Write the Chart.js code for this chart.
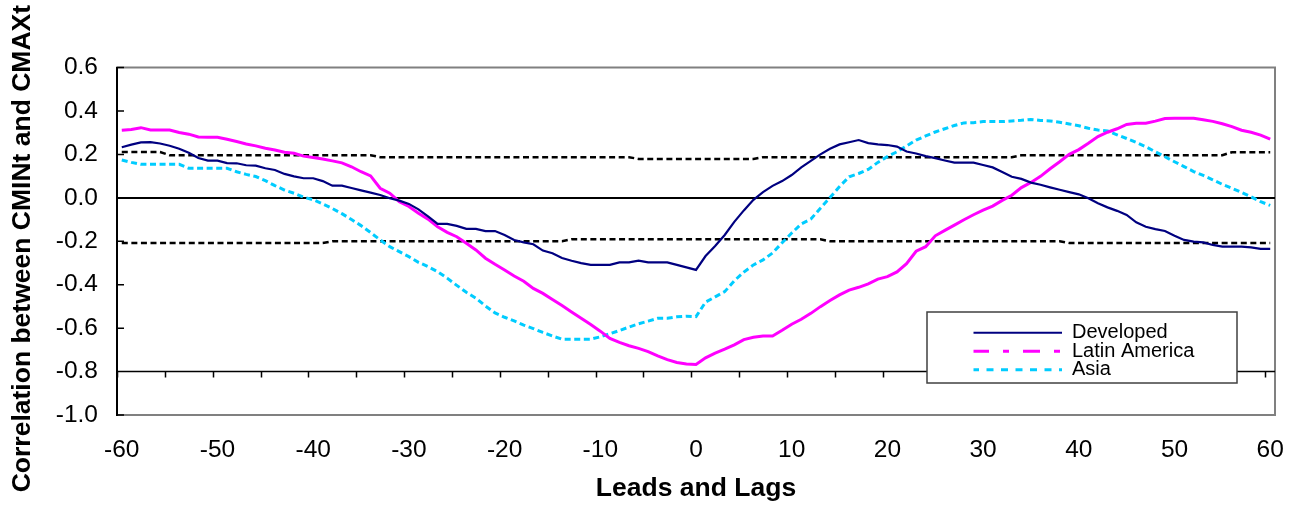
<!DOCTYPE html>
<html>
<head>
<meta charset="utf-8">
<script src="https://cdn.jsdelivr.net/npm/chart.js@4.4.0/dist/chart.umd.min.js"></script>
<style>
  html, body { margin: 0; padding: 0; background: #fff; }
</style>
</head>
<body>
<canvas id="chart" width="1295" height="506"></canvas>
<script>
// lags -60 .. 60
const lags = Array.from({ length: 121 }, (_, i) => i - 60);
const xTickLabels = [-60, -50, -40, -30, -20, -10, 0, 10, 20, 30, 40, 50, 60];
const yTickLabels = [-1.0, -0.8, -0.6, -0.4, -0.2, 0.0, 0.2, 0.4, 0.6];
const seriesNames = ['Developed', 'Latin America', 'Asia'];

const developed = [
  0.233, 0.245, 0.255, 0.256, 0.250, 0.240, 0.226, 0.207, 0.183, 0.171,
  0.171, 0.160, 0.159, 0.150, 0.148, 0.136, 0.128, 0.110, 0.099, 0.090,
  0.090, 0.077, 0.056, 0.056, 0.045, 0.034, 0.024, 0.013, -0.002, -0.013,
  -0.028, -0.053, -0.086, -0.120, -0.120, -0.129, -0.143, -0.143, -0.153, -0.153,
  -0.171, -0.194, -0.205, -0.214, -0.243, -0.255, -0.277, -0.290, -0.301, -0.309,
  -0.309, -0.309, -0.297, -0.297, -0.289, -0.297, -0.297, -0.297, -0.309, -0.320,
  -0.332,
  -0.268, -0.222, -0.171, -0.111, -0.058, -0.009, 0.026, 0.055, 0.077, 0.105,
  0.140, 0.170, 0.200, 0.226, 0.246, 0.256, 0.266, 0.252, 0.246, 0.243,
  0.236, 0.213, 0.204, 0.192, 0.183, 0.172, 0.162, 0.162, 0.162, 0.151,
  0.140, 0.119, 0.097, 0.087, 0.070, 0.060, 0.048, 0.037, 0.026, 0.016,
  -0.002, -0.025, -0.044, -0.060, -0.079, -0.113, -0.133, -0.144, -0.153, -0.175,
  -0.194, -0.202, -0.205, -0.217, -0.225, -0.225, -0.225, -0.228, -0.235, -0.235
];

const latinAmerica = [
  0.311, 0.315, 0.323, 0.312, 0.312, 0.312, 0.301, 0.293, 0.280, 0.279,
  0.279, 0.270, 0.259, 0.248, 0.239, 0.228, 0.220, 0.210, 0.205, 0.192,
  0.186, 0.179, 0.170, 0.161, 0.143, 0.120, 0.101, 0.044, 0.021, -0.018,
  -0.040, -0.071, -0.098, -0.133, -0.159, -0.179, -0.209, -0.240, -0.278, -0.306,
  -0.332, -0.360, -0.384, -0.417, -0.440, -0.468, -0.496, -0.526, -0.555, -0.583,
  -0.614, -0.647, -0.666, -0.681, -0.693, -0.708, -0.728, -0.745, -0.758, -0.765,
  -0.767,
  -0.737, -0.715, -0.697, -0.677, -0.653, -0.642, -0.636, -0.636, -0.610, -0.582,
  -0.559, -0.532, -0.501, -0.473, -0.447, -0.425, -0.412, -0.396, -0.374, -0.363,
  -0.341, -0.303, -0.246, -0.225, -0.175, -0.150, -0.126, -0.101, -0.078, -0.057,
  -0.038, -0.012, 0.012, 0.047, 0.071, 0.099, 0.134, 0.166, 0.200, 0.222,
  0.251, 0.282, 0.302, 0.318, 0.338, 0.343, 0.343, 0.353, 0.365, 0.366,
  0.366, 0.366, 0.359, 0.352, 0.341, 0.328, 0.311, 0.302, 0.289, 0.270
];

const asia = [
  0.174, 0.163, 0.154, 0.154, 0.154, 0.154, 0.154, 0.136, 0.136, 0.136,
  0.136, 0.136, 0.120, 0.108, 0.098, 0.079, 0.056, 0.036, 0.021, 0.003,
  -0.009, -0.028, -0.049, -0.073, -0.100, -0.128, -0.160, -0.194, -0.225, -0.248,
  -0.271, -0.297, -0.317, -0.340, -0.370, -0.403, -0.435, -0.462, -0.498, -0.530,
  -0.550, -0.567, -0.586, -0.602, -0.620, -0.636, -0.651, -0.651, -0.651, -0.651,
  -0.640, -0.626, -0.611, -0.595, -0.580, -0.568, -0.555, -0.555, -0.548, -0.545,
  -0.547,
  -0.480, -0.456, -0.432, -0.382, -0.342, -0.309, -0.286, -0.254, -0.207, -0.162,
  -0.120, -0.098, -0.048, 0.001, 0.052, 0.097, 0.112, 0.131, 0.163, 0.190,
  0.212, 0.239, 0.266, 0.285, 0.303, 0.318, 0.333, 0.345, 0.346, 0.351,
  0.351, 0.351, 0.354, 0.357, 0.361, 0.356, 0.354, 0.348, 0.340, 0.332,
  0.320, 0.312, 0.308, 0.290, 0.273, 0.255, 0.235, 0.212, 0.189, 0.166,
  0.144, 0.121, 0.103, 0.083, 0.062, 0.044, 0.025, 0.005, -0.018, -0.035
];

// significance bands (dotted black)
const upperBand = [
  0.211, 0.211, 0.211, 0.211, 0.211, 0.196, 0.196, 0.196, 0.196, 0.196,
  0.196, 0.196, 0.196, 0.196, 0.196, 0.196, 0.196, 0.196, 0.196, 0.196,
  0.196, 0.196, 0.196, 0.196, 0.196, 0.196, 0.196, 0.187, 0.187, 0.187,
  0.187, 0.187, 0.187, 0.187, 0.187, 0.187, 0.187, 0.187, 0.187, 0.187,
  0.187, 0.187, 0.187, 0.187, 0.187, 0.187, 0.187, 0.187, 0.187, 0.187,
  0.187, 0.187, 0.187, 0.187, 0.179, 0.179, 0.179, 0.179, 0.179, 0.179,
  0.179,
  0.179, 0.179, 0.179, 0.179, 0.179, 0.179, 0.187, 0.187, 0.187, 0.187,
  0.187, 0.187, 0.187, 0.187, 0.187, 0.187, 0.187, 0.187, 0.187, 0.187,
  0.187, 0.187, 0.187, 0.187, 0.187, 0.187, 0.187, 0.187, 0.187, 0.187,
  0.187, 0.187, 0.187, 0.196, 0.196, 0.196, 0.196, 0.196, 0.196, 0.196,
  0.196, 0.196, 0.196, 0.196, 0.196, 0.196, 0.196, 0.196, 0.196, 0.196,
  0.196, 0.196, 0.196, 0.196, 0.196, 0.210, 0.210, 0.210, 0.210, 0.210
];

const lowerBand = [
  -0.208, -0.208, -0.208, -0.208, -0.208, -0.208, -0.208, -0.208, -0.208, -0.208,
  -0.208, -0.208, -0.208, -0.208, -0.208, -0.208, -0.208, -0.208, -0.208, -0.208,
  -0.208, -0.208, -0.200, -0.200, -0.200, -0.200, -0.200, -0.200, -0.200, -0.200,
  -0.200, -0.200, -0.200, -0.200, -0.200, -0.200, -0.200, -0.200, -0.200, -0.200,
  -0.200, -0.200, -0.200, -0.200, -0.200, -0.200, -0.200, -0.191, -0.191, -0.191,
  -0.191, -0.191, -0.191, -0.191, -0.191, -0.191, -0.191, -0.191, -0.191, -0.191,
  -0.191,
  -0.191, -0.191, -0.191, -0.191, -0.191, -0.191, -0.191, -0.191, -0.191, -0.191,
  -0.191, -0.191, -0.191, -0.200, -0.200, -0.200, -0.200, -0.200, -0.200, -0.200,
  -0.200, -0.200, -0.200, -0.200, -0.200, -0.200, -0.200, -0.200, -0.200, -0.200,
  -0.200, -0.200, -0.200, -0.200, -0.200, -0.200, -0.200, -0.200, -0.208, -0.208,
  -0.208, -0.208, -0.208, -0.208, -0.208, -0.208, -0.208, -0.208, -0.208, -0.208,
  -0.208, -0.208, -0.208, -0.208, -0.208, -0.208, -0.208, -0.208, -0.208, -0.208
];

const axisCross = -0.8;
const minorTicks = Array.from({ length: 25 }, (_, k) => -60.5 + 5 * k);

const FONT = "'Liberation Sans', Arial, sans-serif";
Chart.defaults.font.family = FONT;
Chart.defaults.color = '#000';

const toPoints = arr => lags.map((x, i) => ({ x, y: arr[i] }));

const legendStyles = [
  { color: '#000080', width: 2.2, dash: [] },
  { color: '#FF00FF', width: 3, dash: [17, 14, 6, 14] },
  { color: '#00CCFF', width: 3, dash: [7, 7.5] }
];

const framePlugin = {
  id: 'frame',
  afterLayout(chart) {
    const lg = chart.legend;
    if (!lg) return;
    lg.left = 973.5; lg.top = 319.5; lg.right = 1237; lg.bottom = 383;
    lg.width = lg.right - lg.left; lg.height = lg.bottom - lg.top;
  },
  beforeDraw(chart) {
    const { ctx, chartArea: a, scales: { x, y } } = chart;
    ctx.save();
    ctx.strokeStyle = '#808080';
    ctx.lineWidth = 2;
    ctx.strokeRect(a.left, a.top, a.right - a.left, a.bottom - a.top);

    const yc = y.getPixelForValue(axisCross);
    ctx.strokeStyle = '#000';
    ctx.lineWidth = 1.5;
    ctx.beginPath();
    ctx.moveTo(a.left, yc);
    ctx.lineTo(a.right, yc);
    minorTicks.forEach(v => {
      const px = Math.round(x.getPixelForValue(v)) + 0.5;
      ctx.moveTo(px, yc);
      ctx.lineTo(px, yc + 6);
    });
    yTickLabels.forEach(v => {
      const py = y.getPixelForValue(v);
      ctx.moveTo(a.left, py);
      ctx.lineTo(a.left + 7, py);
    });
    ctx.stroke();

    // legend frame
    ctx.fillStyle = '#fff';
    ctx.fillRect(927, 312, 310, 71);
    ctx.strokeStyle = '#404040';
    ctx.lineWidth = 1.5;
    ctx.strokeRect(927, 312, 310, 71);
    ctx.restore();
  }
};

new Chart(document.getElementById('chart'), {
  type: 'line',
  data: {
    datasets: [
      { label: seriesNames[0], data: toPoints(developed), borderColor: '#000080', borderWidth: 2.2 },
      { label: seriesNames[1], data: toPoints(latinAmerica), borderColor: '#FF00FF', borderWidth: 3 },
      { label: seriesNames[2], data: toPoints(asia), borderColor: '#00CCFF', borderWidth: 3, borderDash: [6, 3.57] },
      { label: 'upper', data: toPoints(upperBand), borderColor: '#000', borderWidth: 2.5, borderDash: [6, 3.57] },
      { label: 'lower', data: toPoints(lowerBand), borderColor: '#000', borderWidth: 2.5, borderDash: [6, 3.57] }
    ]
  },
  options: {
    responsive: false,
    animation: false,
    devicePixelRatio: 1,
    layout: { padding: { top: 67.5, right: 20, left: 0, bottom: 0 } },
    elements: {
      point: { radius: 0, hoverRadius: 0 },
      line: { tension: 0, borderCapStyle: 'butt', fill: false }
    },
    plugins: {
      tooltip: { enabled: false },
      legend: {
        position: 'chartArea',
        labels: {
          usePointStyle: true,
          pointStyleWidth: 90,
          padding: -1.5,
          color: '#000',
          font: { size: 20, family: FONT },
          generateLabels: () => seriesNames.map((name, i) => ({
            text: name,
            strokeStyle: legendStyles[i].color,
            fillStyle: legendStyles[i].color,
            fontColor: '#000',
            lineWidth: legendStyles[i].width,
            lineDash: legendStyles[i].dash,
            lineCap: 'butt',
            pointStyle: 'line',
            hidden: false,
            datasetIndex: i
          }))
        }
      }
    },
    scales: {
      x: {
        type: 'linear',
        min: -60.5,
        max: 60.5,
        afterBuildTicks: s => { s.ticks = xTickLabels.map(v => ({ value: v })); },
        afterFit: s => { s.height = 91; s.paddingLeft = 0; s.paddingRight = 0; },
        grid: { display: false, drawTicks: false },
        border: { display: false },
        ticks: {
          padding: 21,
          font: { size: 24.5 },
          color: '#000',
          maxRotation: 0,
          callback: v => String(v)
        },
        title: {
          display: true,
          text: 'Leads and Lags',
          color: '#000',
          font: { size: 26.5, weight: 'bold' },
          padding: { top: 0, bottom: 1 }
        }
      },
      y: {
        min: -1,
        max: 0.6,
        afterBuildTicks: s => { s.ticks = yTickLabels.map(v => ({ value: v })); },
        afterFit: s => { s.width = 117; },
        grid: {
          drawTicks: false,
          lineWidth: 2,
          color: c => (c.tick && Math.abs(c.tick.value) < 1e-9 ? '#000' : 'rgba(0,0,0,0)')
        },
        border: { display: true, color: '#000', width: 2 },
        ticks: {
          padding: 19,
          font: { size: 24.5 },
          color: '#000',
          callback: v => Number(v).toFixed(1)
        },
        title: {
          display: true,
          // trailing spaces nudge the rotated title down to where the original sits
          text: 'Correlation between CMINt and CMAXt  ',
          color: '#000',
          font: { size: 26.5, weight: 'bold' },
          padding: { top: 7, bottom: 0 }
        }
      }
    }
  },
  plugins: [framePlugin]
});
</script>
</body>
</html>
